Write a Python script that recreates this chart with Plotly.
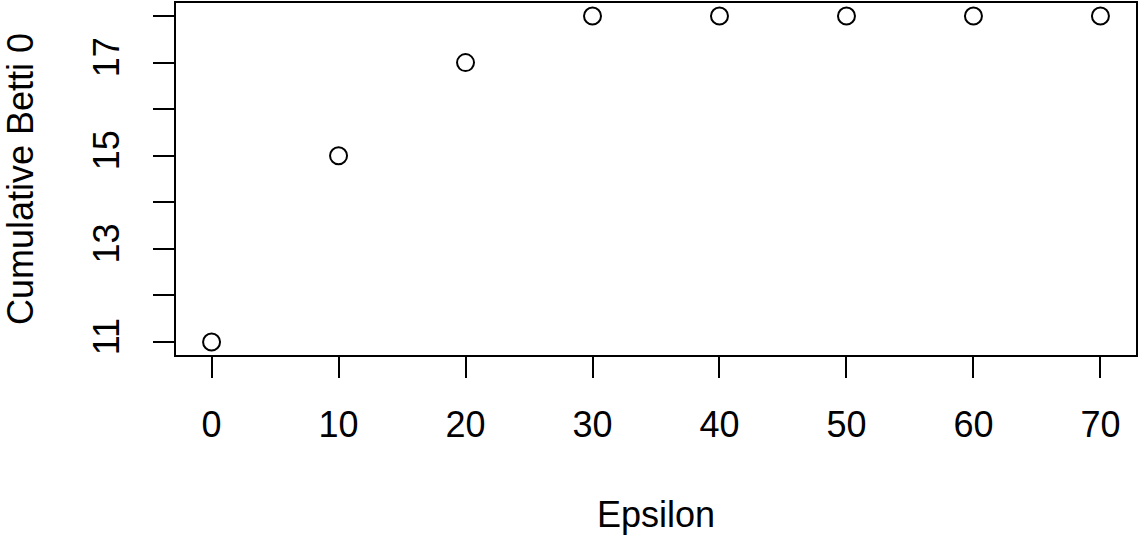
import plotly.graph_objects as go

epsilon = [0, 10, 20, 30, 40, 50, 60, 70]
betti0 = [11, 15, 17, 18, 18, 18, 18, 18]
x_ticks = [0, 10, 20, 30, 40, 50, 60, 70]
y_ticks = [11, 12, 13, 14, 15, 16, 17, 18]
y_ticktext = ["11", "", "13", "", "15", "", "17", ""]

FONT = "Liberation Sans, Arial, Helvetica, sans-serif"
FS = 36

fig = go.Figure()
fig.add_trace(go.Scatter(
    x=epsilon, y=betti0, mode="markers",
    marker=dict(symbol="circle-open", size=17, color="black", line=dict(width=2, color="black")),
    showlegend=False, hoverinfo="skip",
))

axis_common = dict(
    showline=True, linecolor="black", linewidth=2, mirror=True,
    ticks="outside", ticklen=21, tickwidth=2, tickcolor="black",
    showgrid=False, zeroline=False, automargin=False,
    tickfont=dict(family=FONT, size=FS, color="black"),
)

fig.update_layout(
    width=1142, height=535,
    margin=dict(l=176, r=6, t=3, b=180),
    paper_bgcolor="white", plot_bgcolor="white",
    font=dict(family=FONT, size=FS, color="black"),
    xaxis=dict(range=[-2.8, 72.8], tickvals=x_ticks, ticktext=[str(v) for v in x_ticks],
               ticklabelstandoff=16,
               title=dict(text="Epsilon", font=dict(family=FONT, size=FS), standoff=71),
               **axis_common),
    yaxis=dict(range=[10.72, 18.28], tickvals=y_ticks, ticktext=y_ticktext, tickangle=-90,
               ticklabelstandoff=20,
               title=dict(text="Cumulative Betti 0", font=dict(family=FONT, size=FS), standoff=62),
               **axis_common),
)

fig.write_html(
    "out.html",
    config={"displayModeBar": False, "staticPlot": True},
    post_script="document.body.style.margin='0';document.body.style.overflow='hidden';",
)
